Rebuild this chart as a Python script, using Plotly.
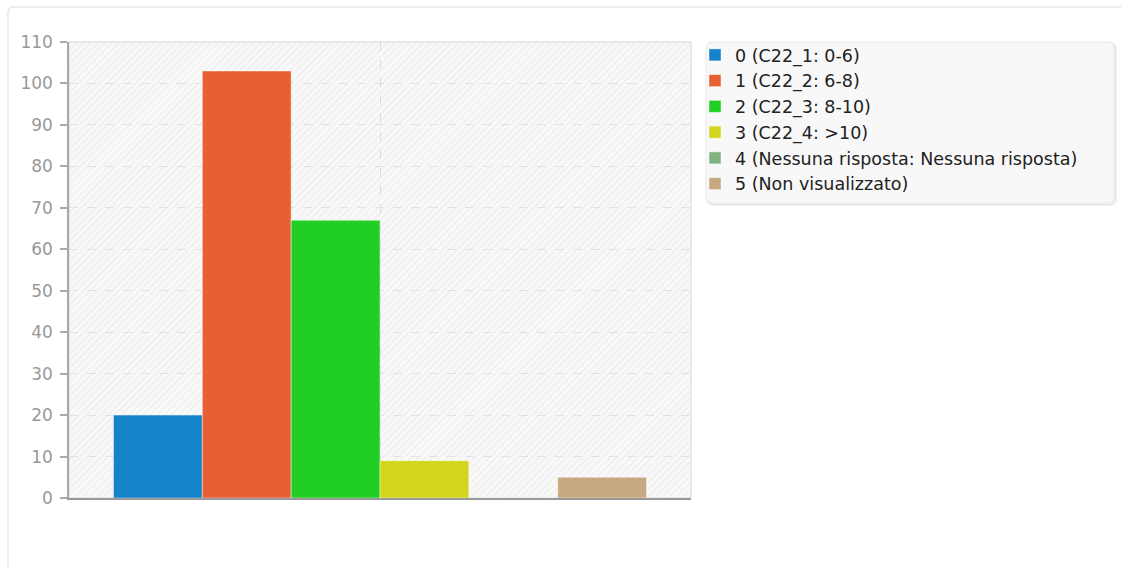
import base64
import plotly.graph_objects as go

# ---- data ----
series_names = [
    "0 (C22_1: 0-6)",
    "1 (C22_2: 6-8)",
    "2 (C22_3: 8-10)",
    "3 (C22_4: >10)",
    "4 (Nessuna risposta: Nessuna risposta)",
    "5 (Non visualizzato)",
]
series_values = [20, 103, 67, 9, 0, 5]
category = ["C22"]
y_ticks = [0, 10, 20, 30, 40, 50, 60, 70, 80, 90, 100, 110]

colors = ["#1582c9", "#e85f33", "#21cf24", "#d3d41e", "#80b380", "#c8a880"]

W, H = 1121, 569
ML, MR, MT, MB = 69, 430, 42, 71
PW, PH = W - ML - MR, H - MT - MB


def px(x):
    return (x - ML) / PW


def py(y):
    return (H - MB - y) / PH


def rounded(x0, y0, x1, y1, r):
    rx, ry = r / PW, r / PH
    X0, X1 = px(x0), px(x1)
    Y0, Y1 = py(y0), py(y1)  # Y0 top (larger), Y1 bottom
    return (
        f"M{X0 + rx},{Y0} L{X1 - rx},{Y0} Q{X1},{Y0} {X1},{Y0 - ry} "
        f"L{X1},{Y1 + ry} Q{X1},{Y1} {X1 - rx},{Y1} "
        f"L{X0 + rx},{Y1} Q{X0},{Y1} {X0},{Y1 + ry} "
        f"L{X0},{Y0 - ry} Q{X0},{Y0} {X0 + rx},{Y0} Z"
    )


fig = go.Figure()
for name, val, col in zip(series_names, series_values, colors):
    fig.add_trace(
        go.Bar(
            x=category,
            y=[val],
            name=name,
            marker=dict(color=col, line=dict(color="rgba(255,255,255,0.45)", width=1)),
        )
    )

hatch_svg = (
    "<svg xmlns='http://www.w3.org/2000/svg' width='622' height='456'>"
    "<defs><pattern id='p' width='5' height='5' patternUnits='userSpaceOnUse' "
    "patternTransform='rotate(45)'>"
    "<rect width='5' height='5' fill='#f9f9f9'/>"
    "<line x1='1' y1='0' x2='1' y2='5' stroke='#efefef' stroke-width='1.6'/>"
    "</pattern></defs>"
    "<rect width='622' height='456' fill='url(#p)'/></svg>"
)
hatch_uri = "data:image/svg+xml;base64," + base64.b64encode(hatch_svg.encode()).decode()

shapes = [
    # outer card
    dict(type="path", xref="paper", yref="paper",
         path=rounded(8, 7, 1135, 590, 6),
         line=dict(color="#e6e6e6", width=1.5), fillcolor="rgba(0,0,0,0)", layer="below"),
    # legend box shadow
    dict(type="path", xref="paper", yref="paper",
         path=rounded(707, 43, 1116, 205, 7),
         line=dict(color="rgba(0,0,0,0.06)", width=2), fillcolor="rgba(0,0,0,0.04)", layer="below"),
    # legend box
    dict(type="path", xref="paper", yref="paper",
         path=rounded(706, 42, 1114, 203, 7),
         line=dict(color="#e8e8e8", width=1), fillcolor="#f8f8f8", layer="below"),
    # plot frame (top / right)
    dict(type="rect", xref="paper", yref="paper", x0=0, y0=0, x1=1, y1=1,
         line=dict(color="#e2e2e2", width=1.5), fillcolor="rgba(0,0,0,0)", layer="below"),
]

fig.update_layout(
    width=W, height=H,
    margin=dict(l=ML, r=MR, t=MT, b=MB, pad=0),
    paper_bgcolor="white",
    plot_bgcolor="#f9f9f9",
    barmode="group",
    bargap=0.143,
    bargroupgap=0,
    font=dict(family="DejaVu Sans", size=17, color="#222"),
    showlegend=True,
    legend=dict(
        x=px(695), y=py(37), xanchor="left", yanchor="top",
        bgcolor="rgba(0,0,0,0)", borderwidth=0,
        font=dict(family="DejaVu Sans", size=17.5, color="#222"),
        itemclick=False, itemdoubleclick=False,
    ),
    images=[dict(source=hatch_uri, xref="paper", yref="paper", x=0, y=1,
                 sizex=1, sizey=1, sizing="stretch", layer="below")],
    shapes=shapes,
    xaxis=dict(
        showticklabels=False, ticks="",
        showgrid=True, gridcolor="#dcdcdc", griddash="dash", gridwidth=1,
        showline=True, linecolor="#999999", linewidth=1.5,
        zeroline=False, fixedrange=True,
    ),
    yaxis=dict(
        range=[0, 110], tickvals=y_ticks, ticktext=[str(v) for v in y_ticks],
        showgrid=True, gridcolor="#e2e2e2", griddash="dash", gridwidth=1,
        showline=True, linecolor="#aaaaaa", linewidth=1.5,
        ticks="outside", ticklen=7, tickcolor="#aaaaaa", tickwidth=1.5,
        tickfont=dict(family="DejaVu Sans", size=17, color="#999999"),
        ticklabelstandoff=4,
        zeroline=False, fixedrange=True,
    ),
)

fig.write_html(
    "out.html",
    config={"displayModeBar": False},
    post_script="document.body.style.margin='0';document.body.style.overflow='hidden';",
)
